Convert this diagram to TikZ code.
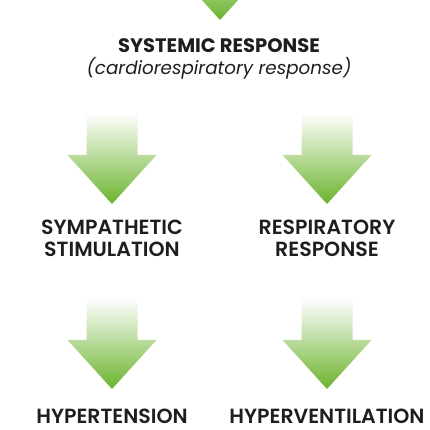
\documentclass[tikz,border=0pt]{standalone}
\usepackage{fontspec}
\setmainfont{Poppins}
\newfontfamily\semifont{Poppins SemiBold}
\definecolor{arrowgreen}{RGB}{108,179,46}
\definecolor{textgray}{RGB}{30,30,30}

\begin{document}
\begin{tikzpicture}[x=1pt, y=1pt, textgray]

    \useasboundingbox (0,0) rectangle (430,430);
    \clip (0,0) rectangle (430,430);

    \tikzset{
        heading/.style={inner sep=0pt, font=\bfseries\fontsize{19.5}{22}\selectfont},
        subheading/.style={inner sep=0pt, font=\itshape\fontsize{18.3}{22}\selectfont},
        effect/.style={inner sep=0pt, align=center, font=\semifont\fontsize{20.5}{22}\selectfont}
    }

    % green arrows: centre x / tip y
    \foreach \cx/\ty in {220/410, 112/226, 327/226, 112/41, 327/41}{
        \shade[top color=white, middle color=arrowgreen!80, bottom color=arrowgreen]
            (\cx-25.5,\ty+91) -- (\cx+25.5,\ty+91) -- (\cx+25.5,\ty+49) -- (\cx+44.5,\ty+49)
            -- (\cx,\ty) -- (\cx-44.5,\ty+49) -- (\cx-25.5,\ty+49) -- cycle;
    }

    \node[heading, anchor=base] (systemic) at (219,377) {SYSTEMIC RESPONSE};
    \node[subheading, anchor=base] (cardio) at (219,355) {(cardiorespiratory response)};

    \node[effect, anchor=north] (sympathetic) at (112,210) {SYMPATHETIC\\STIMULATION};
    \node[effect, anchor=north] (respiratory) at (327,210) {RESPIRATORY\\RESPONSE};

    \node[effect, anchor=base] (hypertension) at (112,6) {HYPERTENSION};
    \node[effect, anchor=base] (hyperventilation) at (327,6) {HYPERVENTILATION};

\end{tikzpicture}
\end{document}
